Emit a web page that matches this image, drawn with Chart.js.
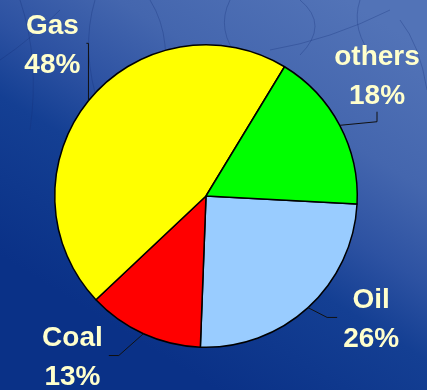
<!DOCTYPE html>
<html>
<head>
<meta charset="utf-8">
<script src="https://cdn.jsdelivr.net/npm/chart.js@4"></script>
<style>
  html, body { margin: 0; padding: 0; background: #0a3288; }
  canvas { display: block; }
</style>
</head>
<body>
<canvas id="fuelPie" width="427" height="390"></canvas>
<script>
  // Fuel mix, clockwise from three o'clock
  const fuels = ['Oil', 'Coal', 'Gas', 'others'];
  const shares = [26, 13, 48, 18];
  const sliceColors = ['#99ccff', '#ff0000', '#ffff00', '#00ff00'];

  // pixel nudge of each label block away from its slice's outward point
  const labelShift = {
    Oil: [24, -33],
    Coal: [-47, -31],
    Gas: [9, -21],
    others: [-14, -24]
  };
  // which way the leader line reaches the label: 'h' = side, 'v' = below
  const leaderLeg = { Oil: 'h', Coal: 'h', Gas: 'h', others: 'v' };

  const LABEL_FONT = 'bold 28px "Liberation Sans", Arial, sans-serif';

  // faint twigs across the upper backdrop
  const twigs = [
    [[20, 0], [40, 60], [30, 130]],
    [[95, 0], [80, 50], [100, 110]],
    [[150, 0], [175, 40], [160, 100]],
    [[230, 0], [215, 30], [240, 60]],
    [[300, 0], [330, 25], [300, 55]],
    [[270, 50], [330, 40], [390, 10]],
    [[360, 0], [350, 30], [375, 60]],
    [[400, 20], [420, 45], [427, 90]],
    [[0, 60], [30, 40], [60, 10]]
  ];

  // blue backdrop, lighter towards the upper right
  const backdrop = {
    id: 'backdrop',
    beforeDraw(chart) {
      const { ctx, width, height } = chart;
      const g = ctx.createLinearGradient(330, -10, 120, 330);
      g.addColorStop(0, '#5273b7');
      g.addColorStop(0.3, '#4466ae');
      g.addColorStop(0.5, '#2d52a2');
      g.addColorStop(0.66, '#143f93');
      g.addColorStop(1, '#0a3187');
      ctx.save();
      ctx.fillStyle = g;
      ctx.fillRect(0, 0, width, height);
      ctx.strokeStyle = 'rgba(20, 45, 120, 0.3)';
      ctx.lineWidth = 1;
      twigs.forEach(([a, b, c]) => {
        ctx.beginPath();
        ctx.moveTo(a[0], a[1]);
        ctx.quadraticCurveTo(b[0], b[1], c[0], c[1]);
        ctx.stroke();
      });
      ctx.restore();
    }
  };

  // two-line labels with elbow leader lines
  const sliceLabels = {
    id: 'sliceLabels',
    afterDatasetsDraw(chart) {
      const { ctx } = chart;
      const meta = chart.getDatasetMeta(0);
      ctx.save();
      ctx.font = LABEL_FONT;
      meta.data.forEach((arc, i) => {
        const { x, y, startAngle, endAngle, outerRadius } = arc.getProps(['x', 'y', 'startAngle', 'endAngle', 'outerRadius'], true);
        const mid = (startAngle + endAngle) / 2;
        const ex = x + outerRadius * Math.cos(mid);
        const ey = y + outerRadius * Math.sin(mid);
        const shift = labelShift[fuels[i]] || [0, 0];
        const cx = x + (outerRadius + 58) * Math.cos(mid) + shift[0];
        const cy = y + (outerRadius + 58) * Math.sin(mid) + shift[1];

        const line1 = fuels[i];
        const line2 = shares[i] + '%';
        const w = Math.max(ctx.measureText(line1).width, ctx.measureText(line2).width);
        const left = cx - w / 2, right = cx + w / 2;
        const top = cy - 29.5, bottom = cy + 29.5;

        // leader line
        let tx, ty, kx, ky;
        if (leaderLeg[fuels[i]] === 'v') {
          tx = cx;
          ty = ey > bottom ? bottom + 8 : top - 8;
          kx = tx;
          ky = ty + (ey > bottom ? 10 : -10);
        } else {
          tx = ex > cx ? right + 6 : left - 6;
          ty = cy;
          const leg = Math.min(10, Math.abs(ex - tx));
          kx = tx + (ex > tx ? leg : -leg);
          ky = ty;
        }
        ctx.strokeStyle = '#111';
        ctx.lineWidth = 1;
        ctx.beginPath();
        ctx.moveTo(ex, ey);
        ctx.lineTo(kx, ky);
        ctx.lineTo(tx, ty);
        ctx.stroke();

        ctx.fillStyle = '#ffffcc';
        ctx.textAlign = 'center';
        ctx.textBaseline = 'alphabetic';
        ctx.fillText(line1, cx, cy - 9.5);
        ctx.fillText(line2, cx, cy + 29.5);
      });
      ctx.restore();
    }
  };

  new Chart(document.getElementById('fuelPie'), {
    type: 'pie',
    data: {
      labels: fuels,
      datasets: [{
        data: shares,
        backgroundColor: sliceColors,
        borderColor: '#000',
        borderWidth: 1.5
      }]
    },
    options: {
      responsive: false,
      animation: false,
      events: [],
      rotation: 93,
      layout: { padding: { top: 44, bottom: 42, left: 54, right: 69 } },
      plugins: {
        legend: { display: false },
        tooltip: { enabled: false }
      }
    },
    plugins: [backdrop, sliceLabels]
  });
</script>
</body>
</html>
